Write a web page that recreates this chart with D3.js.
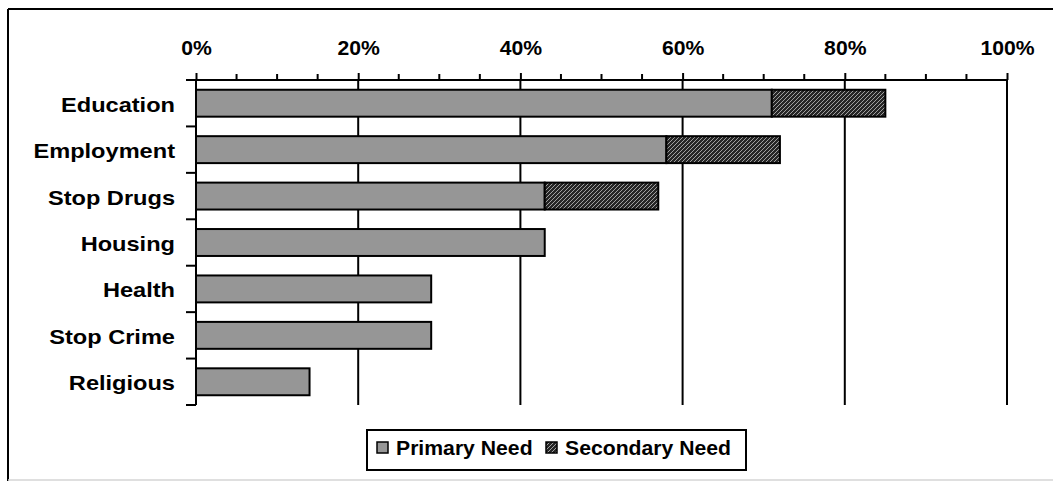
<!DOCTYPE html>
<html>
<head>
<meta charset="utf-8">
<script src="https://cdn.jsdelivr.net/npm/d3@7"></script>
<style>
  html, body { margin: 0; padding: 0; background: #fff; }
  svg { display: block; font-family: "Liberation Sans", Arial, sans-serif; font-weight: bold; }
</style>
</head>
<body>
<svg id="chart" width="1053" height="481"></svg>
<script>
// Community needs: share naming each need as primary / secondary
const categories = ["Education", "Employment", "Stop Drugs", "Housing", "Health", "Stop Crime", "Religious"];
const primaryNeed = [71, 58, 43, 43, 29, 29, 14];
const secondaryNeed = [14, 14, 14, 0, 0, 0, 0];
const xTickValues = [0, 20, 40, 60, 80, 100];
const xTickLabels = ["0%", "20%", "40%", "60%", "80%", "100%"];
const seriesNames = ["Primary Need", "Secondary Need"];

const svg = d3.select("#chart");

// hatched fill for the secondary series
const defs = svg.append("defs");
const pat = defs.append("pattern")
  .attr("id", "hatch")
  .attr("patternUnits", "userSpaceOnUse")
  .attr("width", 4).attr("height", 4);
pat.append("rect").attr("width", 4).attr("height", 4).attr("fill", "#262626");
pat.append("path")
  .attr("d", "M-1,1 L1,-1 M0,4 L4,0 M3,5 L5,3")
  .attr("stroke", "#a0a0a0").attr("stroke-width", 1);

// outer frame
svg.append("line").attr("x1", 8).attr("x2", 1053).attr("y1", 9).attr("y2", 9)
  .attr("stroke", "#000").attr("stroke-width", 2);
svg.append("line").attr("x1", 8).attr("x2", 8).attr("y1", 9).attr("y2", 481)
  .attr("stroke", "#000").attr("stroke-width", 2);
svg.append("line").attr("x1", 8).attr("x2", 1053).attr("y1", 480).attr("y2", 480)
  .attr("stroke", "#d4d4d4").attr("stroke-width", 1.5);

const x = d3.scaleLinear().domain([0, 100]).range([196, 1007]);
const y = d3.scaleBand().domain(categories).range([80, 405])
  .paddingInner(0.42).paddingOuter(0.21);

const plotTop = 80, plotBottom = 405, plotLeft = 196;

// vertical gridlines at major ticks
svg.append("g").selectAll("line")
  .data(xTickValues.slice(1))
  .join("line")
  .attr("x1", d => x(d)).attr("x2", d => x(d))
  .attr("y1", plotTop).attr("y2", plotBottom)
  .attr("stroke", "#000").attr("stroke-width", 2);

// bars
const rows = categories.map((c, i) => ({ c, p: primaryNeed[i], s: secondaryNeed[i] }));
const bars = svg.append("g");
bars.selectAll("rect.primary")
  .data(rows)
  .join("rect")
  .attr("class", "primary")
  .attr("x", x(0))
  .attr("y", d => y(d.c))
  .attr("width", d => x(d.p) - x(0))
  .attr("height", y.bandwidth())
  .attr("fill", "#969696")
  .attr("stroke", "#000").attr("stroke-width", 2);
bars.selectAll("rect.secondary")
  .data(rows.filter(d => d.s > 0))
  .join("rect")
  .attr("class", "secondary")
  .attr("x", d => x(d.p))
  .attr("y", d => y(d.c))
  .attr("width", d => x(d.p + d.s) - x(d.p))
  .attr("height", y.bandwidth())
  .attr("fill", "url(#hatch)")
  .attr("stroke", "#000").attr("stroke-width", 2);

// top x axis with minor ticks every 5%
const xAxis = d3.axisTop(x)
  .tickValues(xTickValues)
  .tickFormat((d, i) => xTickLabels[i])
  .tickSize(7).tickPadding(18);
const gx = svg.append("g").attr("transform", `translate(0,${plotTop})`).call(xAxis);
gx.select(".domain").attr("stroke-width", 2).attr("d", `M${x(0)},0H${x(100)}`);
gx.selectAll(".tick line").attr("stroke-width", 2);
gx.selectAll(".tick text")
  .attr("y", -25).attr("dy", 0)
  .attr("transform", "scale(1.06,1)")
  .attr("font-size", 20).attr("font-weight", "bold")
  .attr("font-family", "Liberation Sans, Arial, sans-serif").attr("fill", "#000");
const minor = d3.range(5, 100, 5).filter(v => v % 20 !== 0);
gx.append("g").selectAll("line").data(minor).join("line")
  .attr("x1", d => x(d)).attr("x2", d => x(d))
  .attr("y1", -6).attr("y2", 0)
  .attr("stroke", "#000").attr("stroke-width", 2);

// left axis: line, boundary ticks, category labels
svg.append("line").attr("x1", plotLeft).attr("x2", plotLeft).attr("y1", plotTop).attr("y2", plotBottom)
  .attr("stroke", "#000").attr("stroke-width", 2);
const boundaries = categories.map(c => y(c) - y.step() * y.paddingInner() / 2);
boundaries[0] = plotTop;
boundaries.push(plotBottom);
svg.append("g").selectAll("line").data(boundaries).join("line")
  .attr("x1", plotLeft - 10).attr("x2", plotLeft)
  .attr("y1", d => d).attr("y2", d => d)
  .attr("stroke", "#000").attr("stroke-width", 2);
svg.append("g").selectAll("text").data(categories).join("text")
  .attr("transform", d => `translate(175,${y(d) + y.bandwidth() / 2 + 8.5}) scale(1.18,1)`)
  .attr("text-anchor", "end")
  .attr("font-size", 20)
  .attr("fill", "#000")
  .text(d => d);

// legend
const lg = svg.append("g");
lg.append("rect").attr("x", 367).attr("y", 430).attr("width", 379).attr("height", 40)
  .attr("fill", "#fff").attr("stroke", "#000").attr("stroke-width", 2);
const legendItems = [
  { name: seriesNames[0], fill: "#969696", sx: 377, tx: 396 },
  { name: seriesNames[1], fill: "url(#hatch)", sx: 546, tx: 565 }
];
legendItems.forEach(it => {
  lg.append("rect").attr("x", it.sx).attr("y", 442).attr("width", 11).attr("height", 11)
    .attr("fill", it.fill).attr("stroke", "#000").attr("stroke-width", 1.5);
  lg.append("text").attr("transform", `translate(${it.tx},455) scale(1.06,1)`)
    .attr("font-size", 20).attr("fill", "#000").text(it.name);
});
</script>
</body>
</html>
